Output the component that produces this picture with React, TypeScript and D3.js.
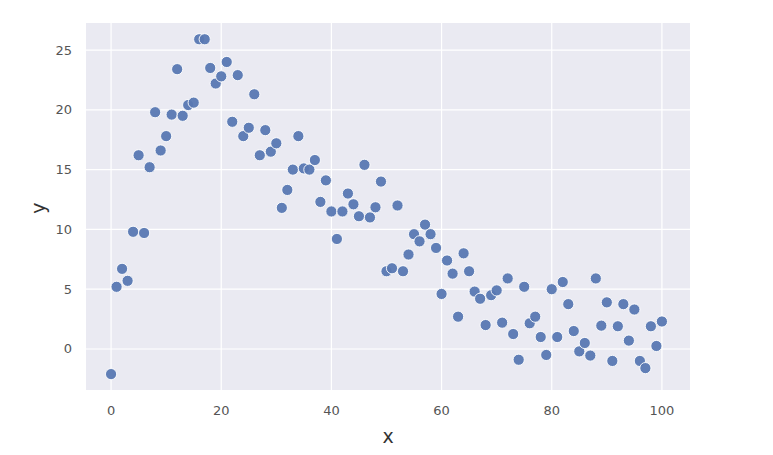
import React from "react";
import * as d3 from "d3";

const xValues: number[] = d3.range(0, 101);
const yValues: number[] = [
  -2.1, 5.2, 6.7, 5.7, 9.8, 16.2, 9.7, 15.2, 19.8, 16.6,
  17.8, 19.6, 23.4, 19.5, 20.4, 20.6, 25.9, 25.9, 23.5, 22.2,
  22.8, 24.0, 19.0, 22.9, 17.8, 18.5, 21.3, 16.2, 18.3, 16.5,
  17.2, 11.8, 13.3, 15.0, 17.8, 15.1, 15.0, 15.8, 12.3, 14.1,
  11.5, 9.2, 11.5, 13.0, 12.1, 11.1, 15.4, 11.0, 11.85, 14.0,
  6.5, 6.75, 12.0, 6.5, 7.9, 9.6, 9.0, 10.4, 9.6, 8.45,
  4.6, 7.4, 6.3, 2.7, 8.0, 6.5, 4.8, 4.2, 2.0, 4.5,
  4.9, 2.2, 5.9, 1.25, -0.9, 5.2, 2.15, 2.7, 1.0, -0.5,
  5.0, 1.0, 5.6, 3.75, 1.5, -0.2, 0.5, -0.55, 5.9, 1.95,
  3.9, -1.0, 1.9, 3.75, 0.7, 3.3, -1.0, -1.6, 1.9, 0.25,
  2.3,
];
const xTicks: number[] = [0, 20, 40, 60, 80, 100];
const yTicks: number[] = [0, 5, 10, 15, 20, 25];

export default function App() {
  const W = 773, H = 455;
  const left = 86, right = 690, top = 23, bottom = 390;
  const x = d3.scaleLinear().domain([-4.55, 105.1]).range([left, right]);
  const y = d3.scaleLinear().domain([-3.43, 27.26]).range([bottom, top]);
  const font = "'DejaVu Sans', sans-serif";
  return (
    <svg width={W} height={H} style={{ position: "absolute", left: 0, top: 0, background: "#fff" }}>
      <rect x={left} y={top} width={right - left} height={bottom - top} fill="#EAEAF2" />
      {xTicks.map((t) => (
        <line key={"gx" + t} x1={x(t)} x2={x(t)} y1={top} y2={bottom} stroke="#fff" strokeWidth={1.2} />
      ))}
      {yTicks.map((t) => (
        <line key={"gy" + t} x1={left} x2={right} y1={y(t)} y2={y(t)} stroke="#fff" strokeWidth={1.2} />
      ))}
      {xValues.map((v, i) => (
        <circle key={i} cx={x(v)} cy={y(yValues[i])} r={5.6} fill="#5878B2" fillOpacity={0.95} stroke="#fff" strokeWidth={0.9} />
      ))}
      {xTicks.map((t) => (
        <text key={"tx" + t} x={x(t)} y={410} textAnchor="middle" dominantBaseline="central" fontFamily={font} fontSize={13} fill="#555">
          {t}
        </text>
      ))}
      {yTicks.map((t) => (
        <text key={"ty" + t} x={72} y={y(t)} textAnchor="end" dominantBaseline="central" fontFamily={font} fontSize={13} fill="#555">
          {t}
        </text>
      ))}
      <text x={388} y={436} textAnchor="middle" dominantBaseline="central" fontFamily={font} fontSize={19} fill="#333">
        x
      </text>
      <text x={38} y={208} textAnchor="middle" dominantBaseline="central" fontFamily={font} fontSize={19} fill="#333" transform="rotate(-90 38 208)">
        y
      </text>
    </svg>
  );
}
